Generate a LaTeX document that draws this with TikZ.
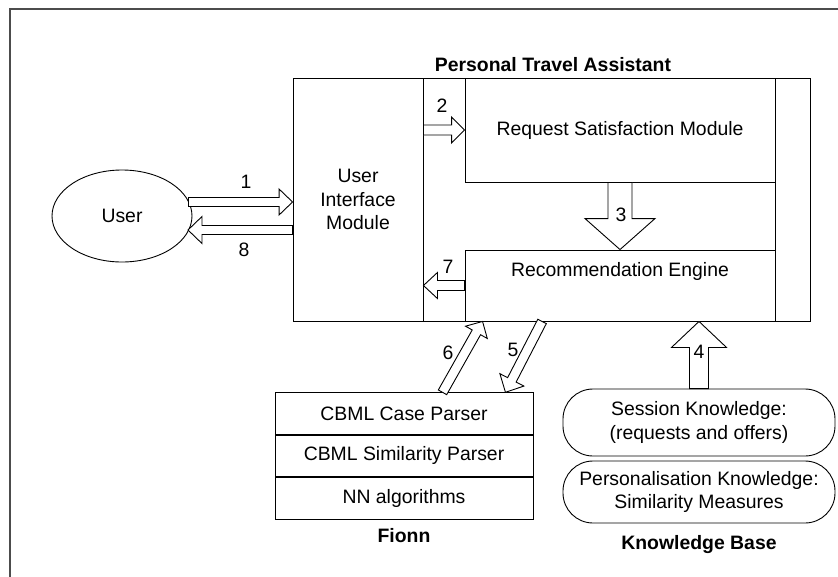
\documentclass[tikz,border=0pt]{standalone}
\usepackage{fontspec}
\setmainfont{Liberation Sans}
\usetikzlibrary{positioning,calc,shapes.geometric}
\newcommand{\dgfont}{\fontsize{19.4}{23.5}\selectfont}
\tikzset{
  frame/.style = {line width=1.6pt, draw=black!70},
  box/.style   = {draw, line width=0.9pt, inner sep=0pt,
                  font=\dgfont, align=center},
  ubox/.style  = {draw, ellipse, line width=0.9pt, inner sep=0pt,
                  minimum width=140pt, minimum height=92pt, font=\dgfont},
  pill/.style  = {draw, line width=0.9pt, rounded corners=30pt,
                  minimum width=272pt, inner sep=0pt, font=\dgfont, align=center},
  txt/.style   = {font=\dgfont, inner sep=1pt},
  ttl/.style   = {font=\dgfont\bfseries, inner sep=1pt},
  lbl/.style   = {font=\dgfont, inner sep=1pt},
  barr/.style  = {draw, fill=white, line width=0.9pt, line join=miter},
}
% block arrow: tail, tip, shaft half width, head half width, head length
\newcommand{\blockarr}[5]{%
  \draw[barr] ($(#1)!#3!90:(#2)$)
    -- ($(#2)!#5!(#1)!#3!90:(#2)$)
    -- ($(#2)!#5!(#1)!#4!90:(#2)$)
    -- (#2)
    -- ($(#2)!#5!(#1)!#4!-90:(#2)$)
    -- ($(#2)!#5!(#1)!#3!-90:(#2)$)
    -- ($(#1)!#3!-90:(#2)$) -- cycle;}

\begin{document}
\begin{tikzpicture}[x=1pt,y=-1pt]
  \useasboundingbox (0,0) rectangle (838,576);
  \draw[frame] (10,600) |- (850,9);

  \node[ttl] (ptat) at (553,65) {Personal Travel Assistant};
  \node[box, minimum width=517pt, minimum height=243pt] (pta) at (551.5,199.5) {};
  \node[box, minimum width=130pt, minimum height=243pt] (ui) at (358,199.5)
    {User\\Interface\\Module};
  \node[box, minimum width=35pt, minimum height=243pt] (strip) at (792.5,199.5) {};
  \node[box, minimum width=310pt, minimum height=104pt] (rsm) at (620,130)
    {Request Satisfaction Module};
  \node[box, minimum width=310pt, minimum height=71pt] (re) at (620,285.5) {};
  \node[txt] (retxt) at (620,271) {Recommendation Engine};

  \node[ubox] (user) at (122,216) {User};

  \node[box, minimum width=258pt, minimum height=41.5pt] (case) at (404,413.5)
    {CBML Case Parser};
  \node[box, minimum width=258pt, minimum height=41.5pt, below=0pt of case] (simp)
    {CBML Similarity Parser};
  \node[box, minimum width=258pt, minimum height=41.5pt, below=0pt of simp] (nnal)
    {NN algorithms};
  \node[ttl] (fionn) at (404,536) {Fionn};

  \node[pill, minimum height=67pt] (sess) at (699,422.5)
    {Session Knowledge:\\(requests and offers)};
  \node[pill, minimum height=62pt] (pers) at (699,492)
    {Personalisation Knowledge:\\Similarity Measures};
  \node[ttl] (kb) at (699,545) {Knowledge Base};

  \coordinate (a1s) at (188.5,202);
  \coordinate (a1e) at ($(ui.west)+(0,2.5)$);
  \coordinate (a8s) at ($(ui.west)+(0,30.5)$);
  \coordinate (a8e) at (188,230);
  \coordinate (a2s) at (ui.east |- rsm.west);
  \coordinate (a7e) at (ui.east |- re.west);
  \coordinate (a4e) at (re.south -| sess.north);
  \coordinate (a6s) at ($(case.north)+(38.5,0)$);
  \coordinate (a6e) at ($(re.south west)+(18,0)$);
  \coordinate (a5s) at ($(re.south west)+(77.5,0)$);
  \coordinate (a5e) at ($(case.north east)+(-28,0)$);

  \blockarr{a1s}{a1e}{4.5pt}{13pt}{13.5pt}
  \blockarr{a8s}{a8e}{4.5pt}{13.5pt}{14pt}
  \blockarr{a2s}{rsm.west}{5pt}{13pt}{13pt}
  \blockarr{rsm.south}{re.north}{12pt}{35pt}{31pt}
  \blockarr{re.west}{a7e}{5pt}{13pt}{14pt}
  \blockarr{sess.north}{a4e}{9.5pt}{27.5pt}{26pt}
  \blockarr{a6s}{a6e}{4.8pt}{12.5pt}{12.5pt}
  \blockarr{a5s}{a5e}{4.8pt}{13.5pt}{14pt}

  \node[lbl] (l1) at (246,182) {1};
  \node[lbl] (l2) at (442,106) {2};
  \node[lbl] (l3) at (621,215) {3};
  \node[lbl] (l4) at (699,352) {4};
  \node[lbl] (l5) at (513,350) {5};
  \node[lbl] (l6) at (448,353) {6};
  \node[lbl] (l7) at (448,267) {7};
  \node[lbl] (l8) at (244,250) {8};
\end{tikzpicture}
\end{document}
